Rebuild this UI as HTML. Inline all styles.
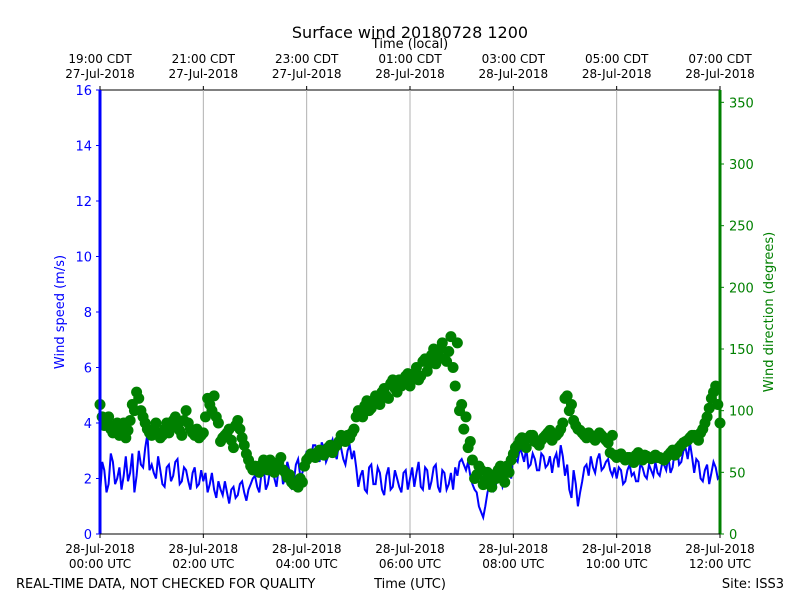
<!DOCTYPE html>
<html><head><meta charset="utf-8"><style>body{margin:0;background:#fff}svg{display:block;font-family:"DejaVu Sans","Liberation Sans",sans-serif}</style></head>
<body>
<svg id="c" width="800" height="600"></svg>
<script>
const speedSeries=[1.4,2.3,1.8,2.6,2.0,1.6,2.8,2.2,1.5,3.0,2.4,3.6,
2.5,2.0,2.3,1.7,2.5,2.1,2.7,1.9,2.3,1.6,2.4,1.8,
1.9,1.5,2.2,1.3,1.6,1.9,1.1,1.7,1.4,1.9,1.2,1.8,
2.1,1.5,2.4,1.8,2.5,1.7,2.6,2.0,2.3,1.9,2.7,2.2,
3.0,2.7,3.2,2.6,3.1,2.8,3.4,2.7,3.1,2.5,3.2,3.0,
1.7,2.3,1.5,2.5,1.8,2.2,1.4,2.4,1.7,2.0,1.5,2.3,
2.0,1.7,2.6,1.6,2.3,1.9,2.5,1.5,2.2,1.8,1.6,2.1,
2.7,2.3,2.1,1.6,1.0,0.6,1.5,2.0,1.8,2.2,1.9,2.4,
3.0,2.6,2.9,3.1,2.5,2.7,2.3,2.8,2.5,2.2,2.9,3.2,
2.1,1.6,2.3,1.0,1.9,2.5,2.8,2.2,2.9,2.4,2.7,2.1,
2.0,2.3,1.9,2.5,2.2,1.9,2.4,2.0,2.3,2.6,2.1,2.5,
2.8,2.4,3.2,2.6,3.1,3.3,2.2,2.6,1.9,2.5,2.2,2.4,2.1];
const speedSeriesB=[2.6,1.5,2.9,1.8,2.4,2.1,1.9,2.9,2.1,2.5,3.1,2.3,
2.2,2.8,1.8,2.4,1.9,2.6,1.8,2.4,1.9,2.2,1.7,2.3,
2.2,1.8,1.6,1.9,1.4,1.5,1.6,1.3,1.8,1.5,1.6,2.0,
1.7,2.2,1.6,2.3,2.0,2.4,1.8,2.6,1.7,2.5,2.1,2.6,
2.6,3.2,2.8,3.3,2.6,3.2,2.9,3.3,2.7,3.0,2.7,2.4,
2.1,1.6,2.4,1.8,2.4,1.6,2.1,1.6,2.3,1.7,2.2,1.6,
2.4,2.2,1.7,2.4,1.6,2.4,1.7,2.3,1.6,2.2,2.4,2.6,
2.5,2.6,1.8,1.5,0.8,1.0,1.8,1.6,2.4,1.7,2.2,2.0,
2.7,3.1,2.6,2.4,2.9,2.3,2.9,2.4,2.8,2.7,2.4,2.8,
2.5,1.3,1.8,1.5,2.4,2.1,2.4,2.7,2.3,2.6,2.3,2.4,
2.4,1.8,2.3,2.1,1.9,2.5,2.1,2.5,2.1,2.2,2.5,2.3,
2.2,3.0,2.5,3.0,2.7,2.8,2.7,2.0,2.3,1.8,2.6,2.0];
const dirSeries=[105,88,95,82,90,85,78,92,100,110,95,85,
80,90,78,85,82,92,88,80,100,85,80,78,
82,110,100,95,75,80,85,70,92,78,65,55,
55,50,60,52,58,55,62,50,48,40,38,42,
60,65,62,68,64,70,66,72,80,75,78,85,
100,95,108,102,112,105,118,110,125,115,120,128,
120,130,125,140,132,145,138,150,142,148,135,155,
105,95,75,45,55,40,50,38,45,55,42,50,
65,72,78,70,80,75,72,78,82,76,80,85,
110,100,92,85,82,78,80,76,82,78,74,80,
62,65,60,62,58,66,60,63,61,64,62,60,
64,68,66,72,75,78,80,76,85,95,110,120,90];
const dirSeriesB=[95,92,85,88,80,90,84,105,115,100,90,82,
85,82,80,90,86,95,84,92,90,82,85,80,
95,105,112,90,78,82,76,88,85,72,60,52,
52,56,54,60,50,58,52,46,42,40,45,55,
62,64,66,65,68,72,70,75,78,80,82,95,
98,104,100,108,110,115,112,122,118,125,122,130,
125,135,128,142,138,150,145,155,140,160,120,100,
85,70,60,48,52,44,42,48,52,48,55,60,
70,76,74,78,80,74,76,80,84,80,82,90,
112,105,88,84,80,82,78,80,80,76,66,64,
64,62,62,60,64,62,64,62,62,62,61,62,
66,64,70,74,76,80,78,82,90,102,115,105];
const speedTicks=[0,2,4,6,8,10,12,14,16];
const dirTicks=[0,50,100,150,200,250,300,350];
const utcLabels=["00:00 UTC","02:00 UTC","04:00 UTC","06:00 UTC","08:00 UTC","10:00 UTC","12:00 UTC"];
const localLabels=[["19:00 CDT","27-Jul-2018"],["21:00 CDT","27-Jul-2018"],["23:00 CDT","27-Jul-2018"],["01:00 CDT","28-Jul-2018"],["03:00 CDT","28-Jul-2018"],["05:00 CDT","28-Jul-2018"],["07:00 CDT","28-Jul-2018"]];
const L=100,R=720,T=90,B=534;
const x=h=>L+(R-L)*h/12, ys=v=>B-(B-T)*v/16, yd=v=>B-(B-T)*v/360;
const svg=document.getElementById('c');const NS='http://www.w3.org/2000/svg';
function mk(t,a,p){const e=document.createElementNS(NS,t);for(const k in a)e.setAttribute(k,a[k]);(p||svg).appendChild(e);return e;}
function tx(s,xx,yy,a){const e=mk('text',Object.assign({x:xx,y:yy,'font-size':12,'text-anchor':'middle'},a||{}));e.textContent=s;return e;}
mk('rect',{x:L,y:T,width:R-L,height:B-T,fill:'#fff',stroke:'#000'});
utcLabels.forEach((s,i)=>{const xx=x(i*2);
 if(i>0&&i<6){const g=mk('line',{x1:xx,x2:xx,y1:T,y2:B,stroke:'#b0b0b0'});}
 mk('line',{x1:xx,x2:xx,y1:B,y2:B+4,stroke:'#000'});mk('line',{x1:xx,x2:xx,y1:T,y2:T-4,stroke:'#000'});
 const a=tx('28-Jul-2018',xx,553);
 tx(s,xx,568);
 const b=tx(localLabels[i][0],xx,63);
 tx(localLabels[i][1],xx,78);});
const pts=[];
speedSeries.forEach((v,i)=>{pts.push([i/12,v]);if(i<speedSeriesB.length)pts.push([(i+0.5)/12,speedSeriesB[i]]);});
let d='';pts.forEach((p,i)=>{d+=(i?'L':'M')+x(p[0]).toFixed(1)+' '+ys(p[1]).toFixed(1);});
const ln=mk('path',{d:d,fill:'none',stroke:'#0000ff','stroke-width':2});

function dot(t,v){const c=mk('circle',{cx:x(t),cy:yd(v),r:5.5,fill:'#008000'});
 
 }
dirSeries.forEach((v,i)=>dot(i/12,v));
dirSeriesB.forEach((v,i)=>dot((i+0.5)/12,v));
mk('line',{x1:L,x2:L,y1:T,y2:B,stroke:'#0000ff','stroke-width':3});
mk('line',{x1:R,x2:R,y1:T,y2:B,stroke:'#008000','stroke-width':3});
mk('line',{x1:L,x2:R,y1:B,y2:B,stroke:'#000'});
speedTicks.forEach(v=>{mk('line',{x1:L-4,x2:L,y1:ys(v),y2:ys(v),stroke:'#0000ff'});
 const e=tx(String(v),L-8,ys(v)+5,{'text-anchor':'end','font-size':13,fill:'#0000ff'});});
dirTicks.forEach(v=>{mk('line',{x1:R,x2:R+4,y1:yd(v),y2:yd(v),stroke:'#008000'});
 const e=tx(String(v),R+9,yd(v)+5,{'text-anchor':'start','font-size':13,fill:'#008000'});});
const t1=tx('Surface wind 20180728 1200',410,38,{'font-size':16});
const t2=tx('Time (local)',410,48,{'font-size':13});
const t3=tx('Wind speed (m/s)',64,312,{'font-size':13,fill:'#0000ff',transform:'rotate(-90 64 312)'});
const t4=tx('Wind direction (degrees)',773,312,{'font-size':13,fill:'#008000',transform:'rotate(-90 773 312)'});
const t5=tx('Time (UTC)',410,588,{'font-size':13});
const t6=tx('REAL-TIME DATA, NOT CHECKED FOR QUALITY',16,588,{'font-size':13,'text-anchor':'start'});
const t7=tx('Site: ISS3',784,588,{'font-size':13,'text-anchor':'end'});
</script>
</body></html>
